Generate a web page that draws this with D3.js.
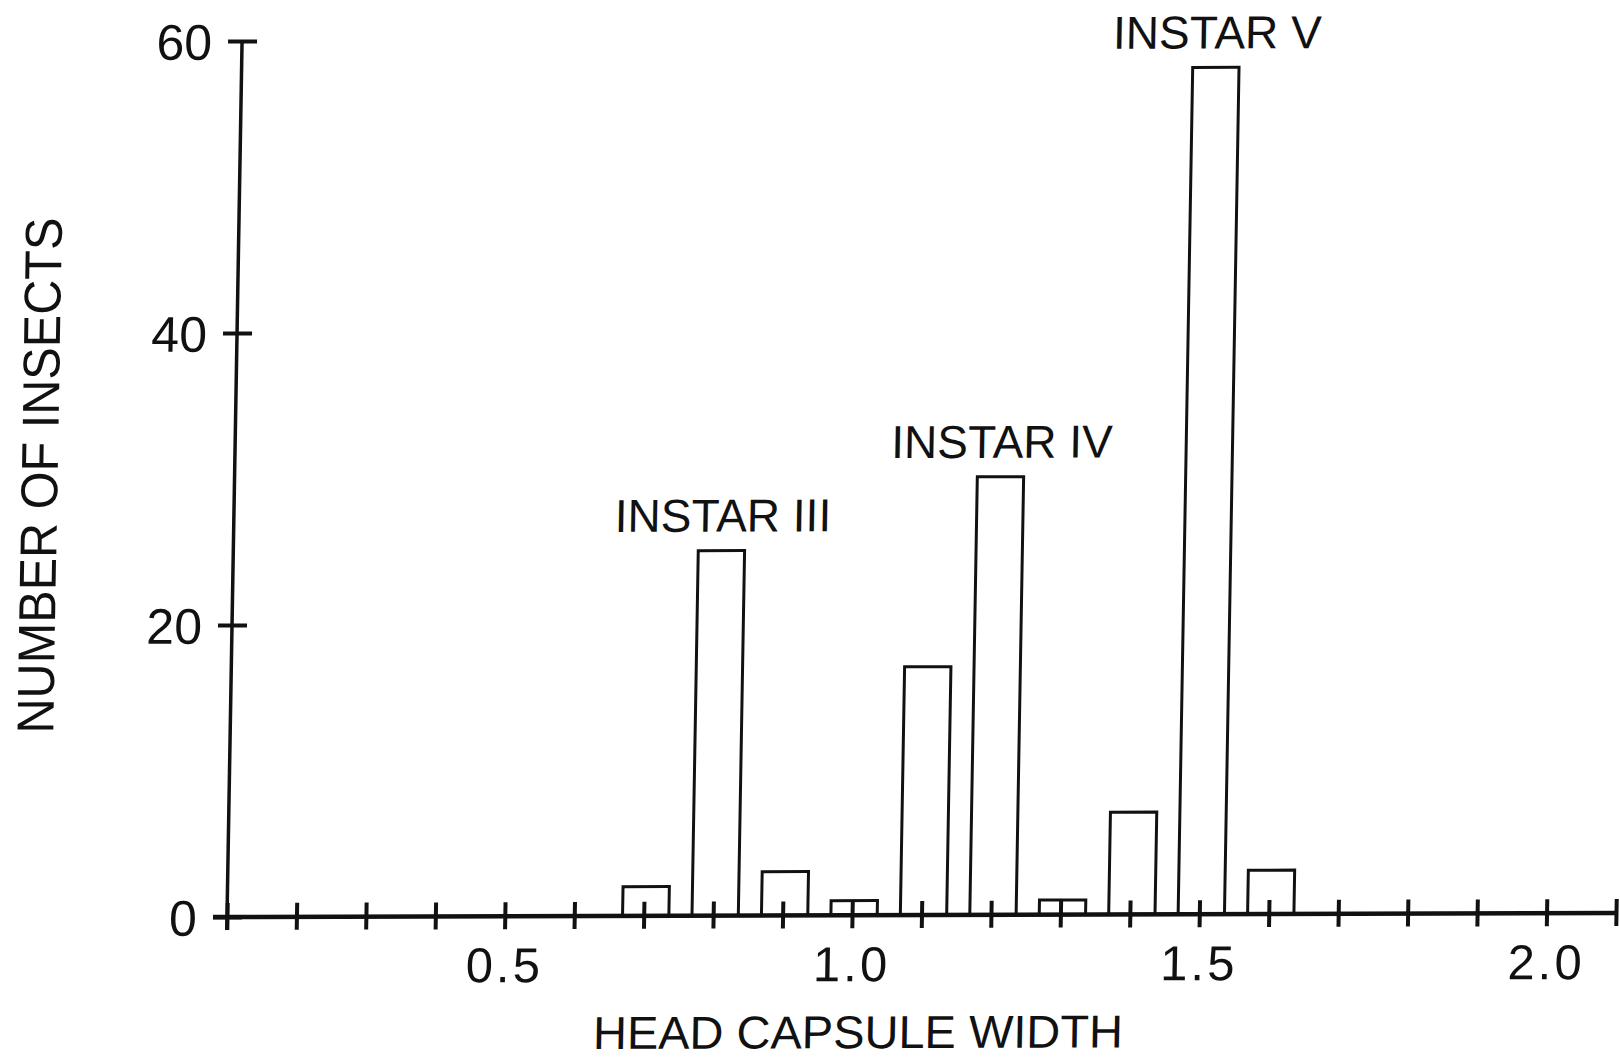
<!DOCTYPE html>
<html>
<head>
<meta charset="utf-8">
<script src="https://cdn.jsdelivr.net/npm/d3@7"></script>
<style>
  html, body { margin: 0; padding: 0; background: #fff; }
  svg { display: block; }
  text { font-family: "Liberation Sans", Arial, sans-serif; fill: #111; }
</style>
</head>
<body>
<svg id="chart" width="1620" height="1062"></svg>
<script>
// Head capsule width classes (mm) and number of insects in each class
const widths = [0.7, 0.8, 0.9, 1.0, 1.1, 1.2, 1.3, 1.4, 1.5, 1.6];
const counts = [2, 25, 3, 1, 17, 30, 1, 7, 58, 3];

// Axis ticks
const xTickValues = d3.range(1, 22).map(i => i / 10);
const xTickLabels = ["0.5", "1.0", "1.5", "2.0"];
const yTickValues = [0, 20, 40, 60];
const yTickLabels = ["0", "20", "40", "60"];

// Instar peaks
const instarNames = ["INSTAR III", "INSTAR IV", "INSTAR V"];
const instarWidths = [0.8, 1.2, 1.5];
const instarCounts = [25, 30, 58];

const svg = d3.select("#chart");
svg.append("rect").attr("width", 1620).attr("height", 1062).attr("fill", "#fff");

// the plotted sheet sits very slightly skewed on the page
const g = svg.append("g")
  .attr("transform", "matrix(1,-0.00288,-0.0172,1,15.77,0.654)");

const x = d3.scaleLinear().domain([0.1, 2.1]).range([227, 1616]);
const y = d3.scaleLinear().domain([0, 60]).range([917, 41]);
const barW = (x(0.2) - x(0.1)) * 0.667;
const ink = "#111";

// bars
g.append("g").selectAll("rect")
  .data(widths.map((w, i) => ({ w, c: counts[i] })))
  .join("rect")
  .attr("x", d => x(d.w) - barW / 2 + 2)
  .attr("y", d => y(d.c))
  .attr("width", barW)
  .attr("height", d => y(0) - y(d.c))
  .attr("fill", "none")
  .attr("stroke", ink)
  .attr("stroke-width", 3);

// x axis
const xAxis = d3.axisBottom(x)
  .tickValues(xTickValues)
  .tickSizeOuter(0)
  .tickPadding(0)
  .tickFormat(v => {
    const s = v.toFixed(1);
    return xTickLabels.includes(s) ? s : "";
  });
const gx = g.append("g").attr("transform", `translate(0,${y(0)})`).call(xAxis);
gx.select(".domain").remove();
gx.selectAll(".tick line")
  .attr("y1", -14).attr("y2", 13)
  .attr("stroke", ink).attr("stroke-width", 4);
gx.selectAll(".tick text")
  .attr("y", 66).attr("dy", null)
  .attr("font-size", 49)
  .attr("letter-spacing", 3)
  .attr("fill", ink);
gx.append("line")
  .attr("x1", x(0.1) - 14).attr("x2", x(2.1) + 2)
  .attr("y1", 0).attr("y2", 0)
  .attr("stroke", ink).attr("stroke-width", 4.5);

// y axis
const yAxis = d3.axisLeft(y)
  .tickValues(yTickValues)
  .tickSizeOuter(0)
  .tickPadding(0)
  .tickFormat((v, i) => yTickLabels[i]);
const gy = g.append("g").attr("transform", `translate(${x(0.1)},0)`).call(yAxis);
gy.select(".domain").remove();
gy.selectAll(".tick line")
  .attr("x1", -14).attr("x2", 15)
  .attr("stroke", ink).attr("stroke-width", 4);
gy.selectAll(".tick text")
  .attr("x", -30).attr("dy", "0.36em")
  .attr("font-size", 50)
  .attr("fill", ink);
gy.append("line")
  .attr("x1", 0).attr("x2", 0)
  .attr("y1", y(60)).attr("y2", y(0) + 13)
  .attr("stroke", ink).attr("stroke-width", 3.5);

// instar annotations
g.append("g").selectAll("text")
  .data(instarNames.map((n, i) => ({ n, w: instarWidths[i], c: instarCounts[i] })))
  .join("text")
  .attr("x", d => x(d.w) + 3)
  .attr("y", d => y(d.c) - 19)
  .attr("text-anchor", "middle")
  .attr("font-size", 46)
  .text(d => d.n);

// axis titles
g.append("text")
  .attr("x", 860).attr("y", 1050)
  .attr("text-anchor", "middle")
  .attr("font-size", 46)
  .attr("textLength", 530)
  .attr("lengthAdjust", "spacingAndGlyphs")
  .text("HEAD CAPSULE WIDTH");

g.append("text")
  .attr("transform", "translate(50,475) rotate(-90)")
  .attr("text-anchor", "middle")
  .attr("font-size", 52)
  .attr("textLength", 516)
  .attr("lengthAdjust", "spacingAndGlyphs")
  .text("NUMBER OF INSECTS");
</script>
</body>
</html>
